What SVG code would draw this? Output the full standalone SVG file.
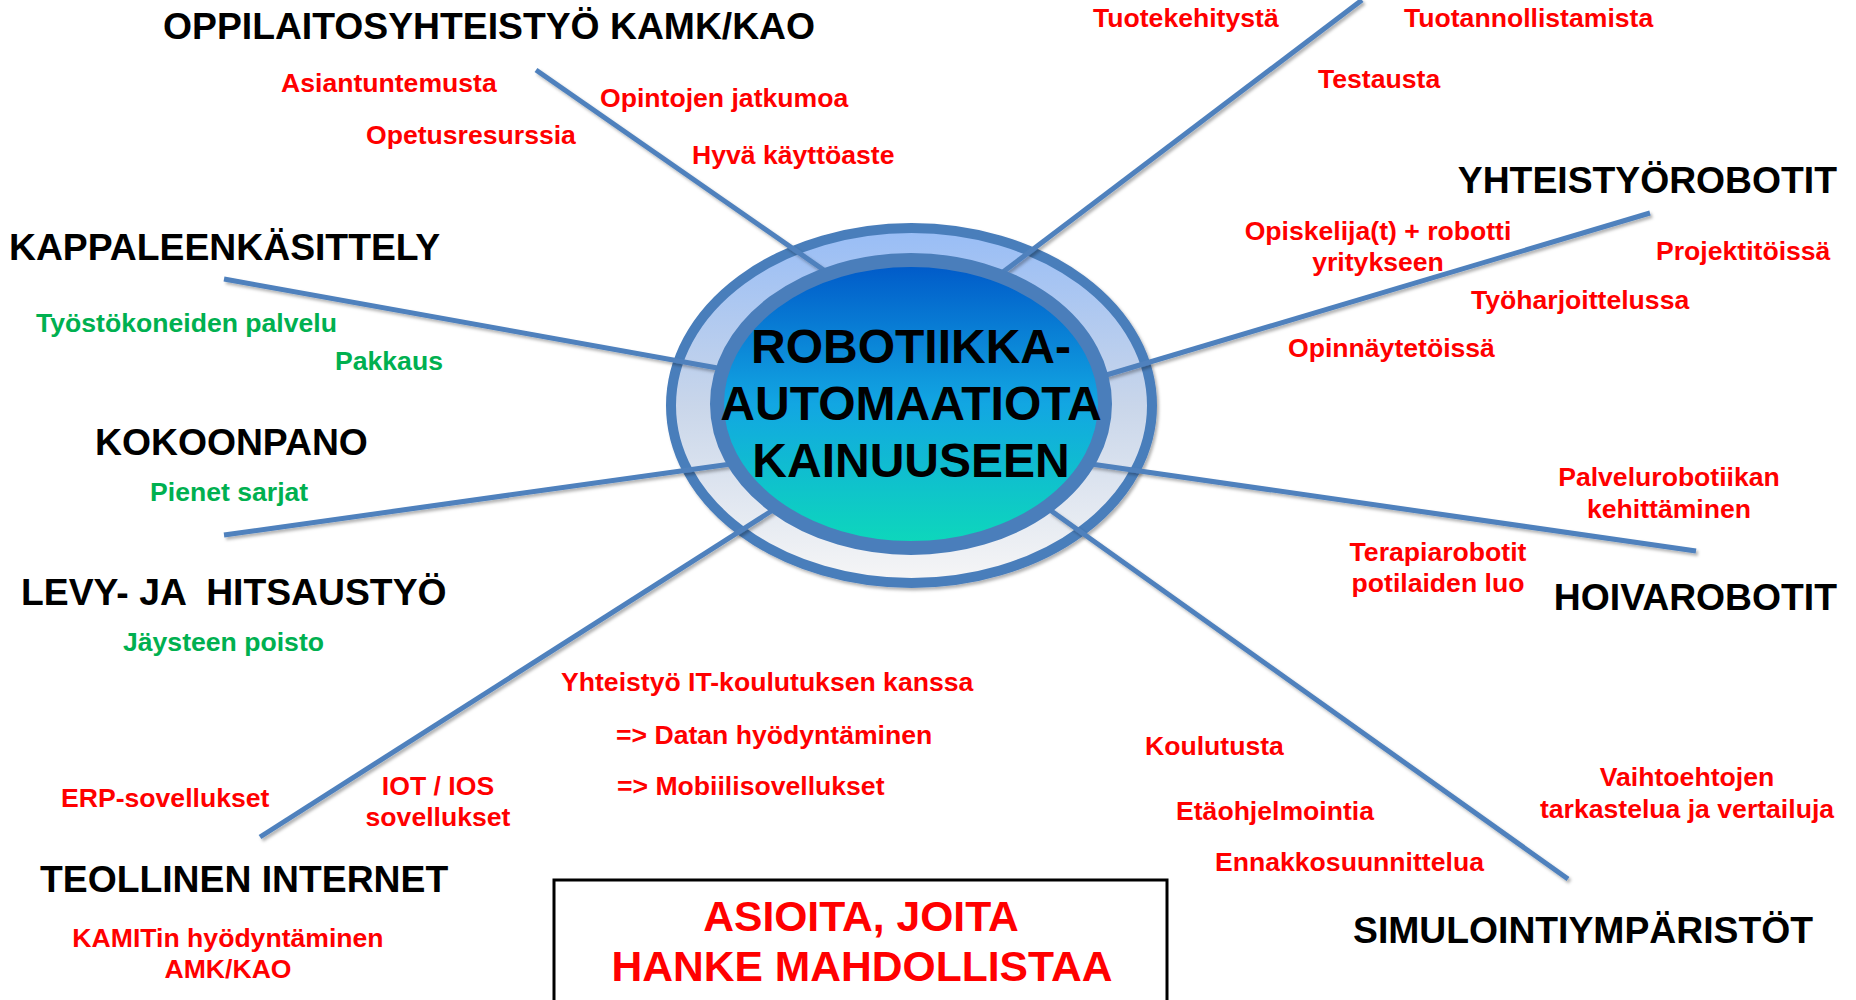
<svg xmlns="http://www.w3.org/2000/svg" width="1856" height="1000" viewBox="0 0 1856 1000">
<defs>
<style>
.h{font-family:"Liberation Sans",Arial,sans-serif;font-weight:bold;font-size:37.3px;fill:#000}
.r{font-family:"Liberation Sans",Arial,sans-serif;font-weight:bold;font-size:26.6px;fill:#ff0000}
.g{font-family:"Liberation Sans",Arial,sans-serif;font-weight:bold;font-size:26.6px;fill:#00b050}
.c{font-family:"Liberation Sans",Arial,sans-serif;font-weight:bold;font-size:48px;fill:#000;text-anchor:middle}
.b{font-family:"Liberation Sans",Arial,sans-serif;font-weight:bold;font-size:42.6px;fill:#ff0000;text-anchor:middle}
.m{text-anchor:middle}
.e{text-anchor:end}
.ln{stroke:#4f81bd;stroke-width:5;fill:none}
</style>
<linearGradient id="ring" x1="0" y1="0" x2="0" y2="1">
<stop offset="0" stop-color="#98bdf6"/>
<stop offset="0.5" stop-color="#c9d6ea"/>
<stop offset="1" stop-color="#f6f6f6"/>
</linearGradient>
<linearGradient id="core" x1="0" y1="0" x2="0" y2="1">
<stop offset="0" stop-color="#0058c8"/>
<stop offset="0.5" stop-color="#12a6e2"/>
<stop offset="1" stop-color="#0dd9ba"/>
</linearGradient>
<filter id="sh" x="-10%" y="-10%" width="120%" height="120%">
<feDropShadow dx="2" dy="2.5" stdDeviation="1.5" flood-color="#000" flood-opacity="0.3"/>
</filter>
</defs>
<rect width="1856" height="1000" fill="#fff"/>

<g id="center-ring">
<ellipse cx="911.5" cy="405.5" rx="240.5" ry="177.5" fill="url(#ring)" stroke="#4a7ebb" stroke-width="10" filter="url(#sh)"/>
</g>

<g id="connectors" filter="url(#sh)">
<line class="ln" x1="536" y1="70" x2="828" y2="273"/>
<line class="ln" x1="1003" y1="272" x2="1362" y2="0"/>
<line class="ln" x1="1103" y1="376" x2="1650" y2="213"/>
<line class="ln" x1="1084" y1="463" x2="1696" y2="551"/>
<line class="ln" x1="1050" y1="510" x2="1568" y2="879"/>
<line class="ln" x1="773" y1="510" x2="260" y2="837"/>
<line class="ln" x1="731" y1="464" x2="224" y2="535"/>
<line class="ln" x1="723" y1="369" x2="224" y2="279"/>
</g>

<g id="center">
<ellipse cx="911" cy="404" rx="194" ry="144" fill="url(#core)" stroke="#4a7ebb" stroke-width="14"/>
<text class="c" x="911" y="363">ROBOTIIKKA-</text>
<text class="c" x="911" y="420">AUTOMAATIOTA</text>
<text class="c" x="911" y="477">KAINUUSEEN</text>
</g>

<g id="oppilaitosyhteistyo">
<text class="h" x="163" y="39">OPPILAITOSYHTEISTYÖ KAMK/KAO</text>
<text class="r" x="281" y="92">Asiantuntemusta</text>
<text class="r" x="600" y="107">Opintojen jatkumoa</text>
<text class="r" x="366" y="144">Opetusresurssia</text>
<text class="r" x="692" y="164">Hyvä käyttöaste</text>
</g>

<g id="tuotekehitys">
<text class="r" x="1093" y="27">Tuotekehitystä</text>
<text class="r" x="1404" y="27">Tuotannollistamista</text>
<text class="r" x="1318" y="88">Testausta</text>
</g>

<g id="yhteistyorobotit">
<text class="h e" x="1837" y="193">YHTEISTYÖROBOTIT</text>
<text class="r m" x="1378" y="240">Opiskelija(t) + robotti</text>
<text class="r m" x="1378" y="271">yritykseen</text>
<text class="r" x="1656" y="260">Projektitöissä</text>
<text class="r" x="1471" y="309">Työharjoittelussa</text>
<text class="r" x="1288" y="357">Opinnäytetöissä</text>
</g>

<g id="hoivarobotit">
<text class="h e" x="1837" y="610">HOIVAROBOTIT</text>
<text class="r m" x="1669" y="486">Palvelurobotiikan</text>
<text class="r m" x="1669" y="518">kehittäminen</text>
<text class="r m" x="1438" y="561">Terapiarobotit</text>
<text class="r m" x="1438" y="592">potilaiden luo</text>
</g>

<g id="simulointiymparistot">
<text class="h" x="1353" y="943">SIMULOINTIYMPÄRISTÖT</text>
<text class="r" x="1145" y="755">Koulutusta</text>
<text class="r" x="1176" y="820">Etäohjelmointia</text>
<text class="r" x="1215" y="871">Ennakkosuunnittelua</text>
<text class="r m" x="1687" y="786">Vaihtoehtojen</text>
<text class="r m" x="1687" y="818">tarkastelua ja vertailuja</text>
</g>

<g id="teollinen-internet">
<text class="h" x="40" y="892">TEOLLINEN INTERNET</text>
<text class="r" x="61" y="807">ERP-sovellukset</text>
<text class="r m" x="438" y="795">IOT / IOS</text>
<text class="r m" x="438" y="826">sovellukset</text>
<text class="r" x="561" y="691">Yhteistyö IT-koulutuksen kanssa</text>
<text class="r" x="616" y="744">=&gt; Datan hyödyntäminen</text>
<text class="r" x="617" y="795">=&gt; Mobiilisovellukset</text>
<text class="r m" x="228" y="947">KAMITin hyödyntäminen</text>
<text class="r m" x="228" y="978">AMK/KAO</text>
</g>

<g id="kappaleenkasittely">
<text class="h" x="9" y="260">KAPPALEENKÄSITTELY</text>
<text class="g" x="36" y="332">Työstökoneiden palvelu</text>
<text class="g" x="335" y="370">Pakkaus</text>
</g>

<g id="kokoonpano">
<text class="h" x="95" y="455">KOKOONPANO</text>
<text class="g" x="150" y="501">Pienet sarjat</text>
</g>

<g id="levy-ja-hitsaustyo">
<text class="h" x="21" y="605" style="white-space:pre" xml:space="preserve">LEVY- JA  HITSAUSTYÖ</text>
<text class="g" x="123" y="651">Jäysteen poisto</text>
</g>

<g id="hanke-box">
<rect x="554" y="880" width="613" height="140" fill="#fff" stroke="#000" stroke-width="3"/>
<text class="b" x="861" y="931">ASIOITA, JOITA</text>
<text class="b" x="862" y="981">HANKE MAHDOLLISTAA</text>
</g>
</svg>
